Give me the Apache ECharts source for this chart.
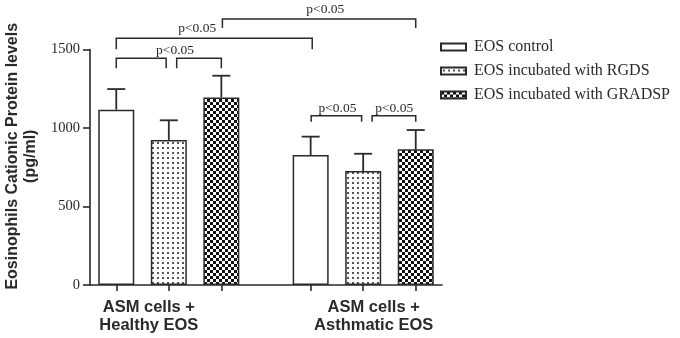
<!DOCTYPE html>
<html><head><meta charset="utf-8">
<script src="https://cdn.jsdelivr.net/npm/echarts@6/dist/echarts.min.js"></script>
<style>html,body{margin:0;padding:0;background:#fff}#c{width:680px;height:338px}</style>
</head><body><div id="c"></div>
<script>
// ---- data ----
const seriesNames = ['EOS control', 'EOS incubated with RGDS', 'EOS incubated with GRADSP'];
const groupLabels = ['ASM cells +\nHealthy EOS', 'ASM cells +\nAsthmatic EOS'];
const groupLabelPos = [1.62, 5.9];
const barPos = [[1, 4.7], [2, 5.7], [3, 6.7]];          // x position of each bar, per series
const means = [[1117, 828], [924, 726], [1195, 864]];   // pg/ml
const sems = [[131, 117], [125, 110], [138, 123]];
const yTicks = [0, 500, 1000, 1500];
// significance brackets: [x1, x2, yTop, yLegEnd]
const brackets = [
  [1, 1.95, 1444, 1380], [2.15, 3, 1444, 1380],
  [1, 4.73, 1571, 1501], [3.02, 6.7, 1694, 1637],
  [4.71, 5.67, 1078, 1040], [5.87, 6.7, 1078, 1040]
];
const pLabels = [
  [2.12, 1497, 'p<0.05'], [2.54, 1635, 'p<0.05'], [4.98, 1752, 'p<0.05'],
  [5.21, 1127, 'p<0.05'], [6.29, 1127, 'p<0.05']
];

// ---- styles ----
const INK = '#2a2a2a';
const BAR_W = 36;
const serif = '"Liberation Serif", "Times New Roman", serif';
const sans = '"Liberation Sans", Arial, sans-serif';

function makeDots() {
  const c = document.createElement('canvas'); c.width = 5; c.height = 5;
  const g = c.getContext('2d');
  g.fillStyle = '#fff'; g.fillRect(0, 0, 5, 5);
  g.fillStyle = '#555'; g.fillRect(2, 2, 2, 2);
  return c;
}
function makeChecker() {
  const c = document.createElement('canvas'); c.width = 6; c.height = 6;
  const g = c.getContext('2d');
  g.fillStyle = '#fff'; g.fillRect(0, 0, 6, 6);
  g.fillStyle = '#111'; g.fillRect(0, 0, 3, 3); g.fillRect(3, 3, 3, 3);
  return c;
}
const fills = ['#fff', { image: makeDots(), repeat: 'repeat' }, { image: makeChecker(), repeat: 'repeat' }];

const chart = echarts.init(document.getElementById('c'), null, { renderer: 'canvas' });

const barSeries = seriesNames.map((name, i) => ({
  name, type: 'bar', barWidth: BAR_W, barGap: '-100%',
  data: barPos[i].map((x, j) => [x, means[i][j]]),
  itemStyle: { color: fills[i], borderColor: INK, borderWidth: 1.5 },
  emphasis: { disabled: true }, z: 2
}));

const errData = [];
seriesNames.forEach((n, i) => barPos[i].forEach((x, j) => errData.push([x, means[i][j], sems[i][j]])));

const option = {
  animation: false,
  backgroundColor: '#fff',
  grid: { left: 90, top: 49.5, width: 352, height: 235.5, containLabel: false, outerBoundsMode: 'none' },
  legend: {
    orient: 'vertical', left: 435, top: 34, itemWidth: 25, itemHeight: 7, itemGap: 8,
    icon: 'rect', selectedMode: false,
    textStyle: { fontFamily: serif, fontSize: 16, color: INK, lineHeight: 16, padding: [0, 0, 0, 3] },
    data: seriesNames
  },
  xAxis: {
    type: 'value', min: 0.5, max: 7.2,
    axisLine: { show: true, lineStyle: { color: INK, width: 1.6 } },
    axisTick: { show: true, length: 6, customValues: barPos.flat(), lineStyle: { color: INK, width: 1.6 } },
    axisLabel: {
      customValues: groupLabelPos, margin: 13,
      formatter: v => { const k = groupLabelPos.findIndex(p => Math.abs(p - v) < 1e-6); return k >= 0 ? groupLabels[k] : ''; },
      fontFamily: sans, fontWeight: 'bold', fontSize: 16.5, lineHeight: 18, color: INK
    },
    splitLine: { show: false }
  },
  yAxis: {
    type: 'value', min: 0, max: 1500, interval: 500,
    name: 'Eosinophils Cationic Protein levels\n(pg/ml)', nameLocation: 'middle', nameGap: 50, nameRotate: 90,
    nameTextStyle: { fontFamily: sans, fontWeight: 'bold', fontSize: 16, lineHeight: 18, color: INK, padding: [0, 0, 0, 22] },
    axisLine: { show: true, lineStyle: { color: INK, width: 1.6 } },
    axisTick: { show: true, length: 7, lineStyle: { color: INK, width: 1.6 } },
    axisLabel: { margin: 10, fontFamily: serif, fontSize: 14.5, color: INK, formatter: v => yTicks.includes(v) ? String(v) : '' },
    splitLine: { show: false }
  },
  series: [
    ...barSeries,
    {
      type: 'custom', name: 'err', clip: false, z: 3, silent: true,
      data: errData,
      renderItem(params, api) {
        const x = api.value(0), m = api.value(1), e = api.value(2);
        const p0 = api.coord([x, m]), p1 = api.coord([x, m + e]);
        const hw = BAR_W / 4;
        const st = { stroke: INK, lineWidth: 1.8 };
        return { type: 'group', children: [
          { type: 'line', shape: { x1: p0[0], y1: p0[1], x2: p1[0], y2: p1[1] }, style: st },
          { type: 'line', shape: { x1: p1[0] - hw, y1: p1[1], x2: p1[0] + hw, y2: p1[1] }, style: st }
        ] };
      }
    },
    {
      type: 'custom', name: 'brackets', clip: false, z: 3, silent: true,
      data: brackets,
      renderItem(params, api) {
        const x1 = api.value(0), x2 = api.value(1), yt = api.value(2), yl = api.value(3);
        const pts = [api.coord([x1, yl]), api.coord([x1, yt]), api.coord([x2, yt]), api.coord([x2, yl])];
        return { type: 'polyline', shape: { points: pts }, style: { stroke: INK, lineWidth: 1.5, fill: null } };
      }
    },
    {
      type: 'custom', name: 'plabels', clip: false, z: 3, silent: true,
      data: pLabels,
      renderItem(params, api) {
        const p = api.coord([api.value(0), api.value(1)]);
        return { type: 'text', x: p[0], y: p[1], style: {
          text: pLabels[params.dataIndex][2], fontFamily: serif, fontSize: 13.5, fill: INK,
          align: 'center', verticalAlign: 'middle' } };
      }
    }
  ]
};
chart.setOption(option);
</script>
</body></html>
